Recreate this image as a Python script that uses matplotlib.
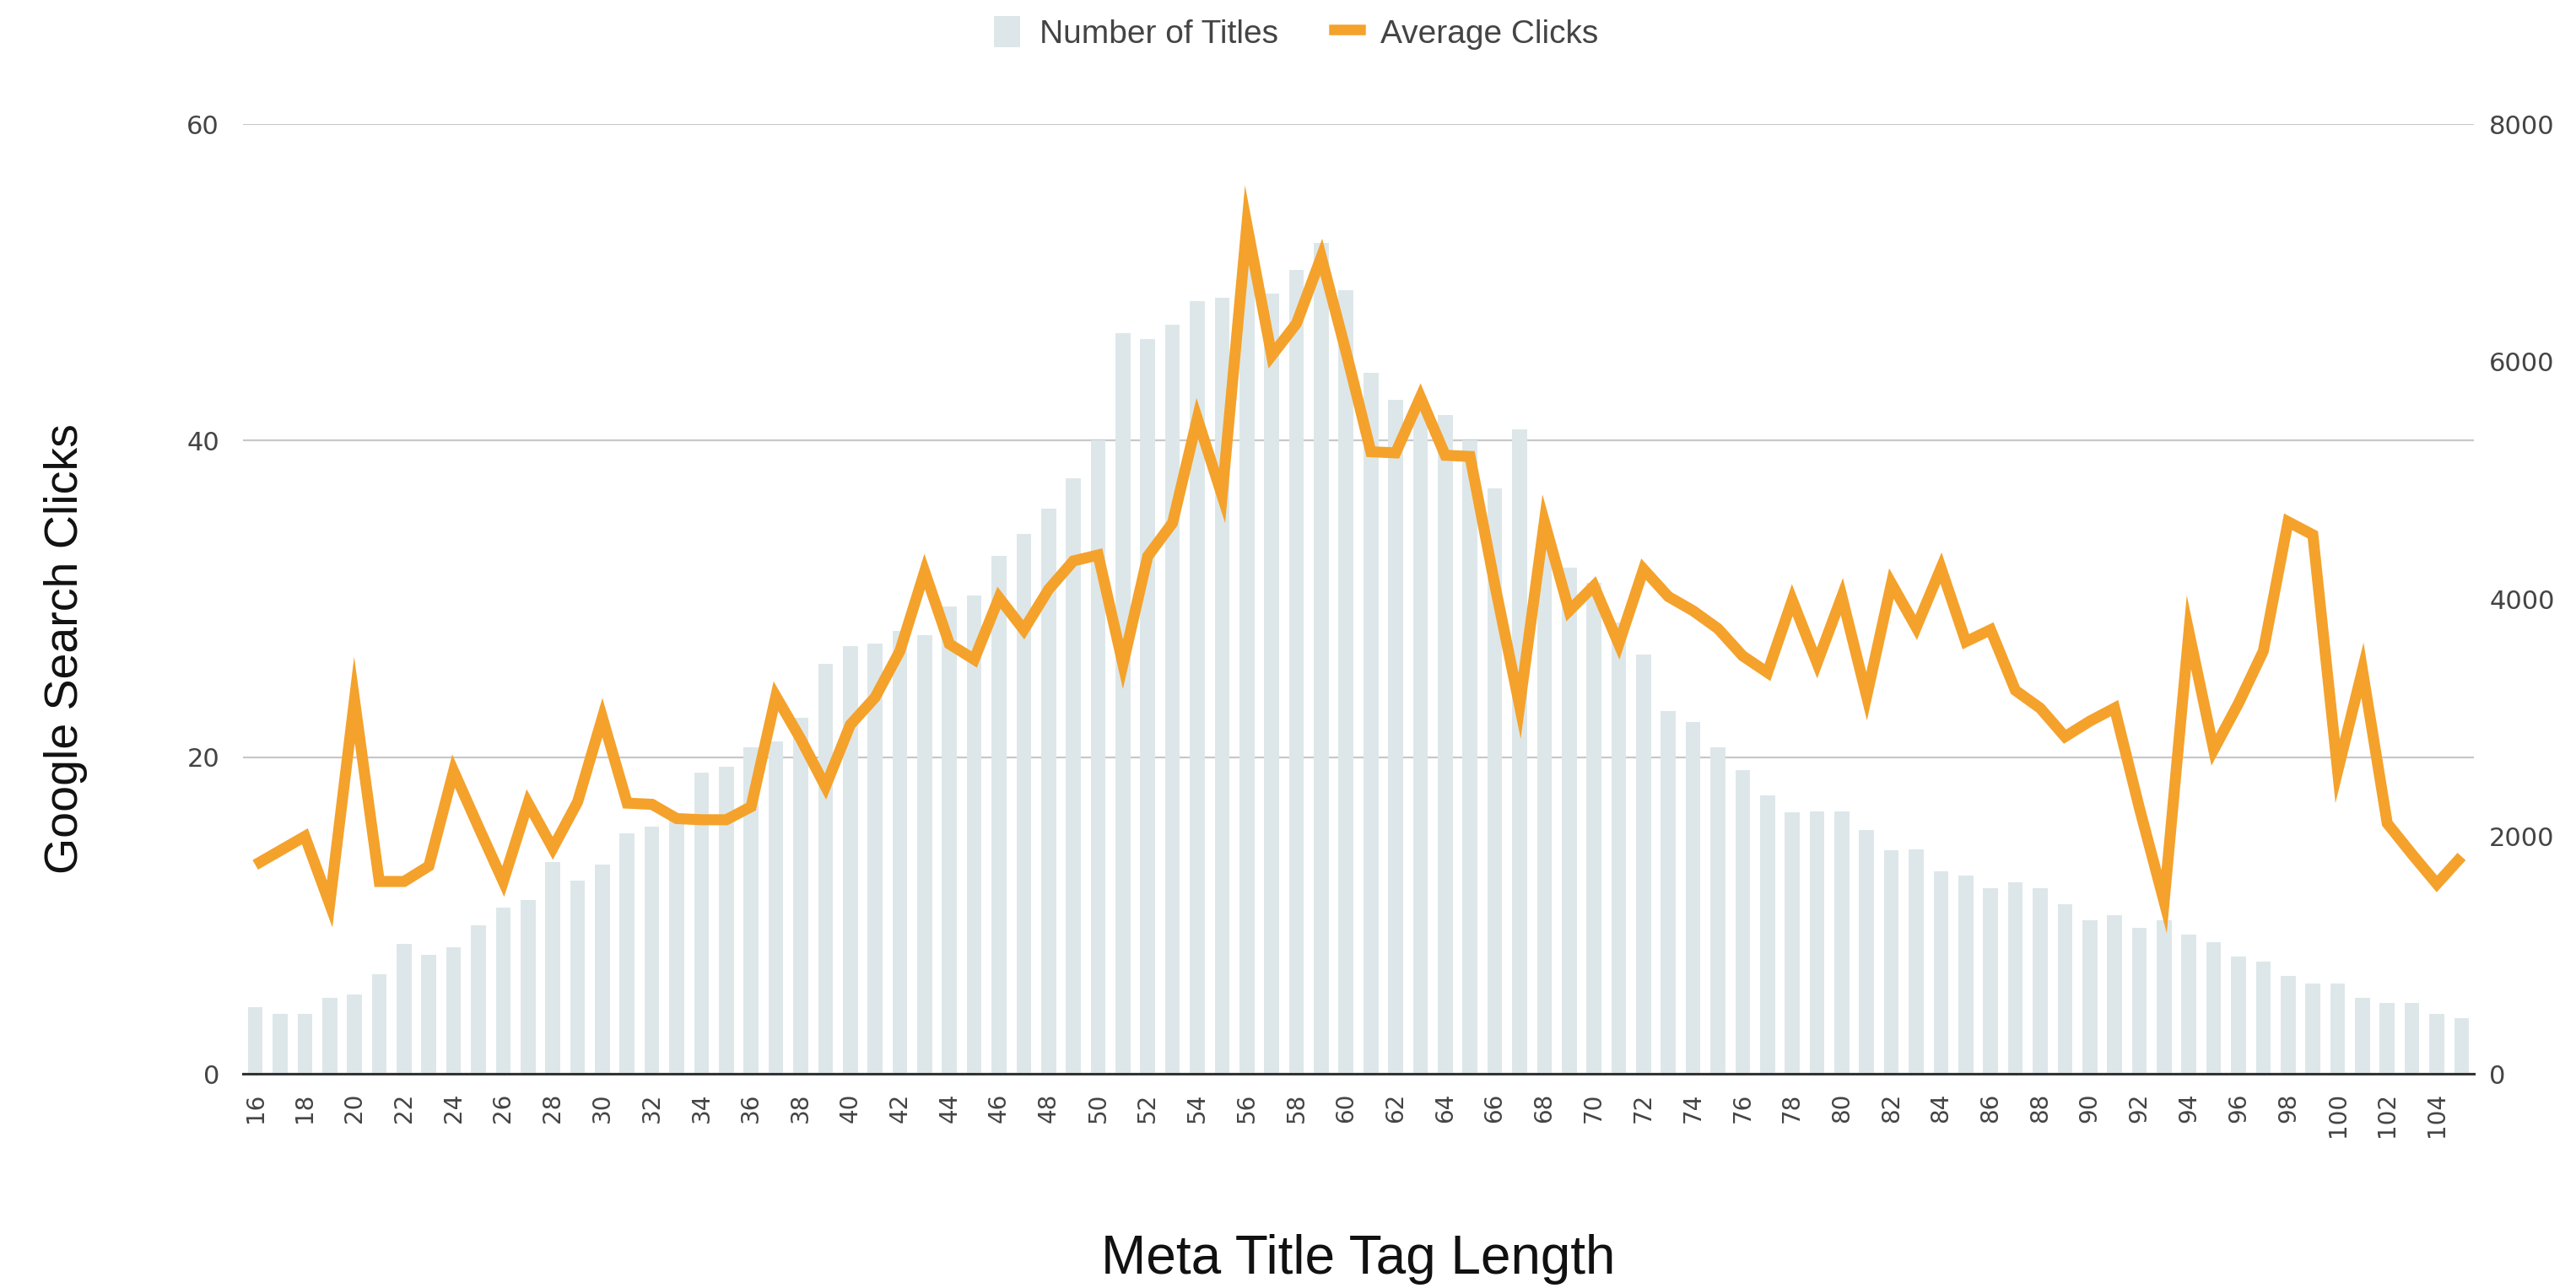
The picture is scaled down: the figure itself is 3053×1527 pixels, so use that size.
import numpy as np
import matplotlib
matplotlib.use("Agg")
import matplotlib.pyplot as plt
from matplotlib.patches import Patch
from matplotlib.lines import Line2D

lengths = list(range(16, 106))

titles = [4.2, 3.8, 3.8, 4.8, 5.0, 6.3, 8.2, 7.5, 8.0, 9.4,
          10.5, 11.0, 13.4, 12.2, 13.2, 15.2, 15.6, 16.0, 19.0, 19.4,
          20.6, 21.0, 22.5, 25.9, 27.0, 27.2, 28.0, 27.7, 29.5, 30.2,
          32.7, 34.1, 35.7, 37.6, 40.0, 46.8, 46.4, 47.3, 48.8, 49.0,
          51.5, 49.3, 50.8, 52.5, 49.5, 44.3, 42.6, 42.3, 41.6, 40.0,
          37.0, 40.7, 33.5, 32.0, 31.0, 28.5, 26.5, 22.9, 22.2, 20.6,
          19.2, 17.6, 16.5, 16.6, 16.6, 15.4, 14.1, 14.2, 12.8, 12.5,
          11.7, 12.1, 11.7, 10.7, 9.7, 10.0, 9.2, 9.7, 8.8, 8.3,
          7.4, 7.1, 6.2, 5.7, 5.7, 4.8, 4.5, 4.5, 3.8, 3.5]

clicks = [1760, 1880, 2000, 1430, 3150, 1620, 1620, 1750, 2550, 2080,
          1620, 2280, 1900, 2290, 3000, 2280, 2270, 2150, 2140, 2140,
          2250, 3180, 2820, 2420, 2940, 3170, 3560, 4230, 3620, 3490,
          4010, 3740, 4080, 4320, 4370, 3450, 4360, 4640, 5520, 4870,
          7150, 6050, 6320, 6880, 6080, 5240, 5230, 5700, 5210, 5200,
          4120, 3100, 4650, 3900, 4110, 3620, 4250, 4020, 3900, 3750,
          3520, 3380, 3990, 3460, 4020, 3180, 4130, 3760, 4260, 3640,
          3740, 3230, 3080, 2840, 2970, 3080, 2240, 1450, 3720, 2730,
          3120, 3560, 4650, 4540, 2550, 3400, 2110, 1850, 1600, 1830]

left_ticks = [0, 20, 40, 60]
right_ticks = [0, 2000, 4000, 6000, 8000]

bar_color = "#dde7ea"
line_color = "#f4a22b"
tick_color = "#444444"
sans = ["Liberation Sans", "DejaVu Sans"]

fig = plt.figure(figsize=(30.53, 15.27), dpi=100)
ax = fig.add_axes([0.0943, 0.1663, 0.8661, 0.7374])
x = np.arange(len(lengths))
ax.bar(x, titles, width=0.6, color=bar_color, zorder=2)
ax.set_xlim(-0.5, len(lengths) - 0.5)
ax.set_ylim(0, 60)
ax.set_yticks(left_ticks)
ax.yaxis.grid(True, color="#c8c8c8", lw=1.6, zorder=0)
ax.set_axisbelow(True)
for s in ["top", "right", "left"]:
    ax.spines[s].set_visible(False)
ax.spines["bottom"].set_color("#333333")
ax.spines["bottom"].set_linewidth(2.2)
ax.spines["bottom"].set_zorder(5)
ax.set_xticks(x[::2])
ax.set_xticklabels([str(v) for v in lengths[::2]], rotation=90,
                   fontsize=20, color=tick_color, family="DejaVu Sans")
ax.tick_params(axis="x", length=0, pad=16)
ax.tick_params(axis="y", length=0, pad=20, labelsize=22, labelcolor=tick_color)

ax2 = ax.twinx()
ax2.plot(x, clicks, color=line_color, lw=9.4, solid_joinstyle="miter",
         solid_capstyle="butt", zorder=3)
ax2.set_ylim(0, 8000)
ax2.set_yticks(right_ticks)
ax2.tick_params(axis="y", length=0, pad=13, labelsize=22, labelcolor=tick_color)
for s in ["top", "right", "left", "bottom"]:
    ax2.spines[s].set_visible(False)

fig.text(0.0255, 0.4964, "Google Search Clicks", rotation=90, ha="center",
         va="center", fontsize=40, family=sans, color="#111111")
fig.text(0.5274, 0.022, "Meta Title Tag Length", ha="center", va="center",
         fontsize=46, family=sans, color="#111111")

handles = [Patch(facecolor=bar_color, edgecolor="none"),
           Line2D([0], [0], color=line_color, lw=9)]
fig.legend(handles, ["Number of Titles", "Average Clicks"], loc="center",
           bbox_to_anchor=(0.503, 0.9745), ncol=2, frameon=False,
           prop={"family": sans, "size": 28}, handlelength=0.8,
           handleheight=1.1, handletextpad=0.6, columnspacing=1.7,
           labelcolor="#444444")

fig.savefig("out.png", dpi=100)
